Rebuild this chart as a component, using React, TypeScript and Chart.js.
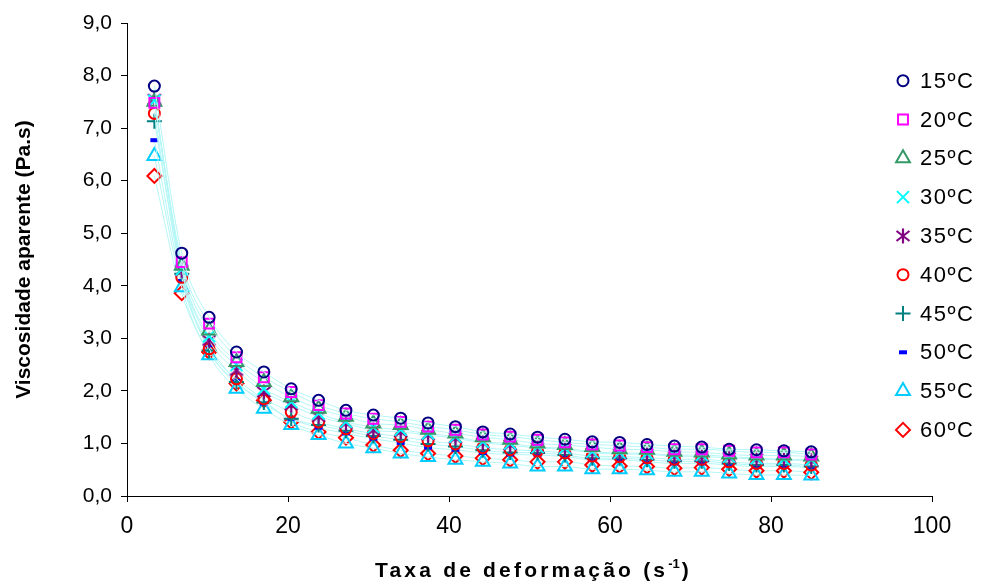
import React, { useEffect, useRef } from 'react';
import { Chart, registerables } from 'chart.js';
import { drawPoint } from 'chart.js/helpers';

Chart.register(...registerables);

// Shear rate (s^-1)
const shearRates = [3.4, 6.8, 10.2, 13.6, 17.0, 20.4, 23.8, 27.2, 30.6, 34.0, 37.4, 40.8, 44.2, 47.6, 51.0, 54.4, 57.8, 61.2, 64.6, 68.0, 71.4, 74.8, 78.2, 81.6, 85.0];

// Apparent viscosity (Pa.s)
const v15 = [7.80, 4.62, 3.40, 2.74, 2.36, 2.04, 1.82, 1.63, 1.54, 1.48, 1.39, 1.32, 1.22, 1.18, 1.12, 1.08, 1.03, 1.02, 0.98, 0.95, 0.93, 0.89, 0.88, 0.86, 0.84];
const v20 = [7.48, 4.45, 3.28, 2.64, 2.26, 1.98, 1.73, 1.57, 1.47, 1.41, 1.32, 1.26, 1.17, 1.13, 1.07, 1.02, 0.98, 0.96, 0.93, 0.89, 0.89, 0.86, 0.83, 0.83, 0.79];
const v25 = [7.50, 4.38, 3.15, 2.55, 2.17, 1.88, 1.66, 1.51, 1.38, 1.35, 1.26, 1.19, 1.12, 1.07, 1.00, 0.97, 0.93, 0.89, 0.88, 0.84, 0.83, 0.79, 0.77, 0.77, 0.75];
const v30 = [7.52, 4.31, 3.04, 2.49, 2.04, 1.79, 1.57, 1.41, 1.31, 1.26, 1.19, 1.13, 1.03, 1.00, 0.93, 0.91, 0.84, 0.82, 0.81, 0.78, 0.78, 0.75, 0.72, 0.70, 0.69];
const v35 = [7.55, 4.29, 2.96, 2.39, 1.98, 1.73, 1.51, 1.38, 1.25, 1.22, 1.16, 1.10, 1.01, 0.97, 0.91, 0.89, 0.82, 0.80, 0.79, 0.76, 0.75, 0.73, 0.70, 0.69, 0.67];
const v40 = [7.28, 4.16, 2.80, 2.23, 1.85, 1.60, 1.41, 1.28, 1.19, 1.13, 1.05, 0.99, 0.92, 0.88, 0.86, 0.82, 0.76, 0.75, 0.73, 0.70, 0.70, 0.65, 0.62, 0.62, 0.59];
const v45 = [7.13, 4.23, 2.77, 2.17, 1.78, 1.47, 1.35, 1.24, 1.14, 1.07, 0.99, 0.94, 0.87, 0.83, 0.82, 0.78, 0.72, 0.72, 0.69, 0.66, 0.66, 0.62, 0.59, 0.59, 0.56];
const v50 = [6.77, 4.09, 2.87, 2.19, 1.76, 1.47, 1.30, 1.19, 1.09, 1.01, 0.92, 0.88, 0.82, 0.79, 0.78, 0.75, 0.69, 0.69, 0.65, 0.62, 0.62, 0.59, 0.56, 0.56, 0.54];
const v55 = [6.47, 3.97, 2.68, 2.04, 1.66, 1.35, 1.16, 1.00, 0.91, 0.81, 0.74, 0.69, 0.65, 0.62, 0.56, 0.56, 0.51, 0.51, 0.49, 0.46, 0.46, 0.43, 0.40, 0.40, 0.39];
const v60 = [6.09, 3.86, 2.74, 2.14, 1.82, 1.41, 1.22, 1.11, 0.97, 0.87, 0.81, 0.76, 0.72, 0.69, 0.65, 0.65, 0.59, 0.57, 0.56, 0.53, 0.54, 0.51, 0.48, 0.48, 0.45];

const seriesLabels = ['15ºC', '20ºC', '25ºC', '30ºC', '35ºC', '40ºC', '45ºC', '50ºC', '55ºC', '60ºC'];
const seriesValues = [v15, v20, v25, v30, v35, v40, v45, v50, v55, v60];

const xTicks = [0, 20, 40, 60, 80, 100];
const yTitle = 'Viscosidade aparente (Pa.s)';
const xTitleMain = 'Taxa de deformação (s';
const xTitleSup = '-1';
const xTitleEnd = ')';

const FONT = "'Liberation Sans', Arial, sans-serif";

function makeAsterisk(color: string): HTMLCanvasElement {
  const c = document.createElement('canvas');
  c.width = 18;
  c.height = 18;
  const g = c.getContext('2d')!;
  g.strokeStyle = color;
  g.lineWidth = 2.2;
  g.beginPath();
  g.moveTo(9, 1.5); g.lineTo(9, 16.5);
  g.moveTo(2.5, 4); g.lineTo(15.5, 14);
  g.moveTo(15.5, 4); g.lineTo(2.5, 14);
  g.stroke();
  return c;
}

export default function App() {
  const ref = useRef<HTMLCanvasElement | null>(null);

  useEffect(() => {
    if (!ref.current) return;
    const styles: any[] = [
      { color: '#000080', style: 'circle', r: 5.5, bw: 2 },
      { color: '#ff00ff', style: 'rect', r: 7, bw: 2 },
      { color: '#339966', style: 'triangle', r: 8, bw: 2 },
      { color: '#00ffff', style: 'crossRot', r: 8.5, bw: 2 },
      { color: '#800080', style: makeAsterisk('#800080'), r: 7, bw: 2 },
      { color: '#ff0000', style: 'circle', r: 5.5, bw: 2 },
      { color: '#008080', style: 'cross', r: 7.5, bw: 2 },
      { color: '#0000ff', style: 'line', r: 4, bw: 4 },
      { color: '#00ccff', style: 'triangle', r: 8, bw: 2 },
      { color: '#ff0000', style: 'rectRot', r: 7, bw: 2 },
    ];

    const datasets = seriesLabels.map((label, i) => ({
      label,
      data: shearRates.map((x, j) => ({ x, y: seriesValues[i][j] })),
      showLine: true,
      borderColor: '#b4f6f6',
      borderWidth: 1,
      cubicInterpolationMode: 'monotone' as const,
      pointStyle: styles[i].style,
      pointRadius: styles[i].r,
      pointBorderWidth: styles[i].bw,
      pointBorderColor: styles[i].color,
      pointBackgroundColor: 'rgba(0,0,0,0)',
    }));

    const legendPlugin = {
      id: 'customLegend',
      afterDraw(chart: any) {
        const ctx = chart.ctx as CanvasRenderingContext2D;
        ctx.save();
        styles.forEach((s, i) => {
          const y = 80.7 + i * 38.8;
          ctx.strokeStyle = s.color;
          ctx.fillStyle = 'rgba(0,0,0,0)';
          ctx.lineWidth = s.bw;
          drawPoint(ctx, { pointStyle: s.style, radius: s.r, borderWidth: s.bw, rotation: 0 } as any, 903, y);
          ctx.fillStyle = '#000';
          ctx.font = `22px ${FONT}`;
          (ctx as any).letterSpacing = '1.5px';
          ctx.textAlign = 'left';
          ctx.textBaseline = 'middle';
          ctx.fillText(seriesLabels[i], 920, y + 1);
          (ctx as any).letterSpacing = '0px';
        });
        // x-axis title
        const ca = chart.chartArea;
        const cx = (ca.left + ca.right) / 2 + 3;
        const cy = 571;
        ctx.fillStyle = '#000';
        ctx.textBaseline = 'middle';
        ctx.textAlign = 'left';
        (ctx as any).letterSpacing = '3.2px';
        ctx.font = `bold 21px ${FONT}`;
        const w1 = ctx.measureText(xTitleMain).width;
        const w3 = ctx.measureText(xTitleEnd).width;
        ctx.font = `bold 13px ${FONT}`;
        (ctx as any).letterSpacing = '0px';
        const w2 = ctx.measureText(xTitleSup).width;
        let x0 = cx - (w1 + w2 + w3) / 2;
        ctx.font = `bold 21px ${FONT}`;
        (ctx as any).letterSpacing = '3.2px';
        ctx.fillText(xTitleMain, x0, cy);
        x0 += w1;
        ctx.font = `bold 13px ${FONT}`;
        (ctx as any).letterSpacing = '0px';
        ctx.fillText(xTitleSup, x0, cy - 7);
        x0 += w2 + 2;
        ctx.font = `bold 21px ${FONT}`;
        ctx.fillText(xTitleEnd, x0, cy);
        (ctx as any).letterSpacing = '0px';
        ctx.restore();
      },
    };

    const chart = new Chart(ref.current, {
      type: 'scatter',
      data: { datasets },
      options: {
        responsive: false,
        animation: false,
        events: [],
        layout: { padding: { top: 23, right: 50, left: 0, bottom: 0 } },
        plugins: {
          legend: { display: false },
          tooltip: { enabled: false },
          title: { display: false },
        },
        scales: {
          x: {
            type: 'linear',
            min: 0,
            max: 100,
            afterBuildTicks: (s: any) => { s.ticks = xTicks.map((v) => ({ value: v })); },
            ticks: { color: '#000', font: { family: FONT, size: 23 }, padding: 11, maxRotation: 0 },
            grid: { drawOnChartArea: false, drawTicks: true, tickLength: 6, color: '#000' },
            border: { display: true, color: '#000', width: 1 },
            afterFit: (s: any) => { s.height = 88; },
          },
          y: {
            type: 'linear',
            min: 0,
            max: 9,
            ticks: {
              stepSize: 1,
              color: '#000',
              font: { family: FONT, size: 21 },
              padding: 9,
              callback: (v: any) => Number(v).toFixed(1).replace('.', ','),
            },
            grid: { drawOnChartArea: false, drawTicks: true, tickLength: 6, color: '#000' },
            border: { display: true, color: '#000', width: 1 },
            title: {
              display: true,
              text: yTitle,
              color: '#000',
              font: { family: FONT, size: 21, weight: 'bold' },
              padding: { top: 12, bottom: 0 },
            },
            afterFit: (s: any) => { s.width = 127; },
          },
        },
      },
      plugins: [legendPlugin],
    });

    return () => chart.destroy();
  }, []);

  return (
    <div style={{ position: 'fixed', left: 0, top: 0, width: 982, height: 584, background: '#fff' }}>
      <canvas ref={ref} width={982} height={584} style={{ display: 'block' }} />
    </div>
  );
}
